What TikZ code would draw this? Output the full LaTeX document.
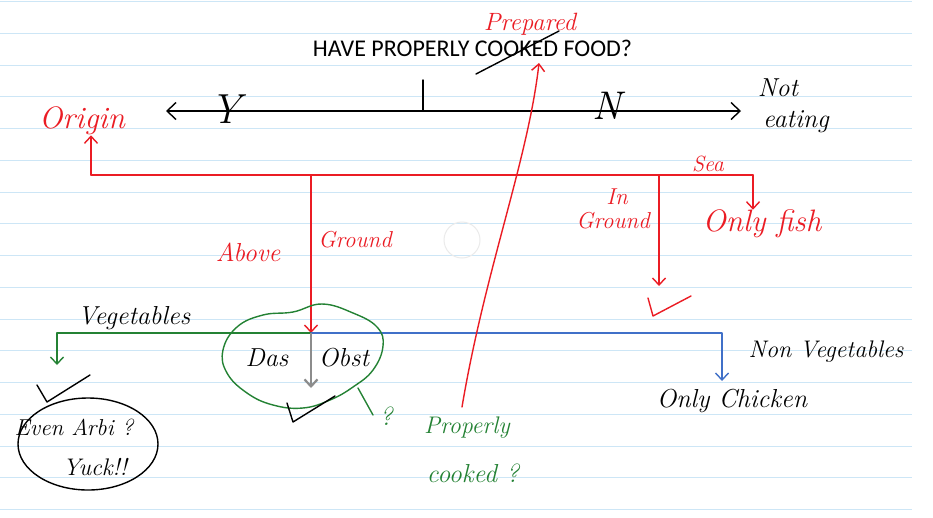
\documentclass[tikz,border=0pt]{standalone}
\usepackage{fontspec}
\newfontfamily\titlefont{Carlito}
\usetikzlibrary{arrows.meta}
\definecolor{penred}{RGB}{235,28,36}
\definecolor{pengreen}{RGB}{36,130,52}
\definecolor{penblue}{RGB}{64,112,200}
\definecolor{rulecol}{RGB}{205,230,246}

\begin{document}
\begin{tikzpicture}
    [x = 1pt, y = -1pt,
     hand/.style = {inner sep = 0pt, font = \fontsize{26}{28}\selectfont\itshape},
     bighand/.style = {inner sep = 0pt, font = \fontsize{31}{33}\selectfont\itshape},
     ink/.style = {line width = 1.4pt, line cap = round, line join = round},
     barb/.style = {-{Straight Barb[length = 7pt, width = 13pt]}},
     rule/.style = {rulecol, line width = .8pt}]
    \useasboundingbox[fill = white] (0,0) rectangle (933,517);
    % ruled paper
    \foreach \k in {0,...,16}
      \draw[rule] (0,1.5+31.75*\k) -- (912,1.5+31.75*\k);
    \draw[black!8, line width = 1pt] (462,240) circle [radius = 18];

    % question and scale
    \node (title) [anchor = base, inner sep = 0pt, font = \titlefont\fontsize{24}{26}\selectfont]
      at (472.5,56) {HAVE PROPERLY COOKED FOOD?};
    \node (prep) [hand, penred, font = \fontsize{25}{27}\selectfont\itshape] at (530,24) {Prepared};
    \draw[ink] (476,74) -- (559,31);
    \coordinate (axL) at (166,111);
    \coordinate (axR) at (741,111);
    \coordinate (tick) at (423,80);
    \draw[ink, {Straight Barb[length = 9pt, width = 17pt]}-{Straight Barb[length = 9pt, width = 17pt]}] (axL) -- (axR);
    \draw[ink] (tick) -- (tick |- axL);
    \node (yes) [bighand, font = \fontsize{42}{44}\selectfont\itshape] at (226,109) {Y};
    \node (no) [bighand, font = \fontsize{40}{42}\selectfont\itshape] at (607,106) {N};
    \node (not) [hand] at (778,88) {Not};
    \node (eat) [hand] at (796,122) {eating};

    % origin tree
    \node (origin) [bighand, penred] at (82,121) {Origin};
    \coordinate (root) at (91,175);
    \coordinate (seaC) at (753,175);
    \coordinate (inC) at (659,175);
    \coordinate (aboveC) at (311,175);
    \coordinate (fork) at (311,333);
    \draw[ink, penred, barb] (root) -- (root |- origin.south);
    \draw[ink, penred] (root) -- (seaC);
    \node (fish) [bighand, penred] at (762,224) {Only fish};
    \draw[ink, penred, barb] (seaC) -- (seaC |- fish.north);
    \node (sea) [hand, penred, font = \fontsize{22}{24}\selectfont\itshape] at (708,164) {Sea};
    \coordinate (inEnd) at (659,286);
    \draw[ink, penred, barb] (inC) -- (inEnd);
    \node (in) [hand, penred, font = \fontsize{23}{25}\selectfont\itshape] at (617,197) {In};
    \node (ground1) [hand, penred, font = \fontsize{23}{25}\selectfont\itshape] at (613,221) {Ground};
    \draw[ink, penred] (648,298) -- (653,316) -- (691,296);
    \draw[ink, penred, barb] (aboveC) -- (fork);
    \node (above) [hand, penred] at (248,252) {Above};
    \node (ground2) [hand, penred, font = \fontsize{23}{25}\selectfont\itshape] at (355,240) {Ground};

    % vegetables / non vegetables
    \coordinate (vegC) at (57,333);
    \coordinate (vegEnd) at (57,365);
    \coordinate (nonC) at (722,333);
    \coordinate (nonEnd) at (722,381);
    \coordinate (obstEnd) at (311,388);
    \draw[ink, pengreen, barb] (fork) -- (vegC) -- (vegEnd);
    \draw[ink, penblue, barb] (fork) -- (nonC) -- (nonEnd);
    \draw[line width = 2.2pt, black!45, barb] (fork) -- (obstEnd);
    \node (veg) [hand] at (134,318) {Vegetables};
    \node (nonveg) [hand, font = \fontsize{24}{26}\selectfont\itshape] at (826,352) {Non Vegetables};
    \node (chicken) [hand] at (732,401) {Only Chicken};

    % fruit
    \draw[ink, pengreen] plot[smooth cycle, tension = .7] coordinates
      {(293,312) (322,304) (353,313) (377,327) (383,346) (373,370) (353,387) (330,400)
       (303,408) (273,405) (247,393) (227,373) (223,350) (237,327) (263,315)};
    \node (das) [hand] at (267,358) {Das};
    \node (obst) [hand] at (344,358) {Obst};
    \draw[ink] (287,403) -- (293,422) -- (335,396);
    \draw[ink, pengreen] (358,388) -- (373,415);
    \node (qmark) [hand, pengreen] at (386,416) {?};

    % arbi
    \draw[ink] (37,385) -- (47,402) -- (90,375);
    \draw[ink] (88,444) ellipse [x radius = 70, y radius = 46];
    \node (arbi) [hand, font = \fontsize{23}{25}\selectfont\itshape] at (74,427) {Even Arbi ?};
    \node (yuck) [hand, font = \fontsize{24}{26}\selectfont\itshape] at (95,467) {Yuck!!};

    % properly cooked
    \node (proper) [hand, pengreen, font = \fontsize{24}{26}\selectfont\itshape] at (467,428) {Properly};
    \node (cooked) [hand, pengreen] at (473,473) {cooked ?};
    \coordinate (pcStart) at (462,407);
    \coordinate (pcEnd) at (539,63);
    \draw[ink, penred, barb] (pcStart) .. controls (485,270) and (528,160) .. (pcEnd);
\end{tikzpicture}
\end{document}
